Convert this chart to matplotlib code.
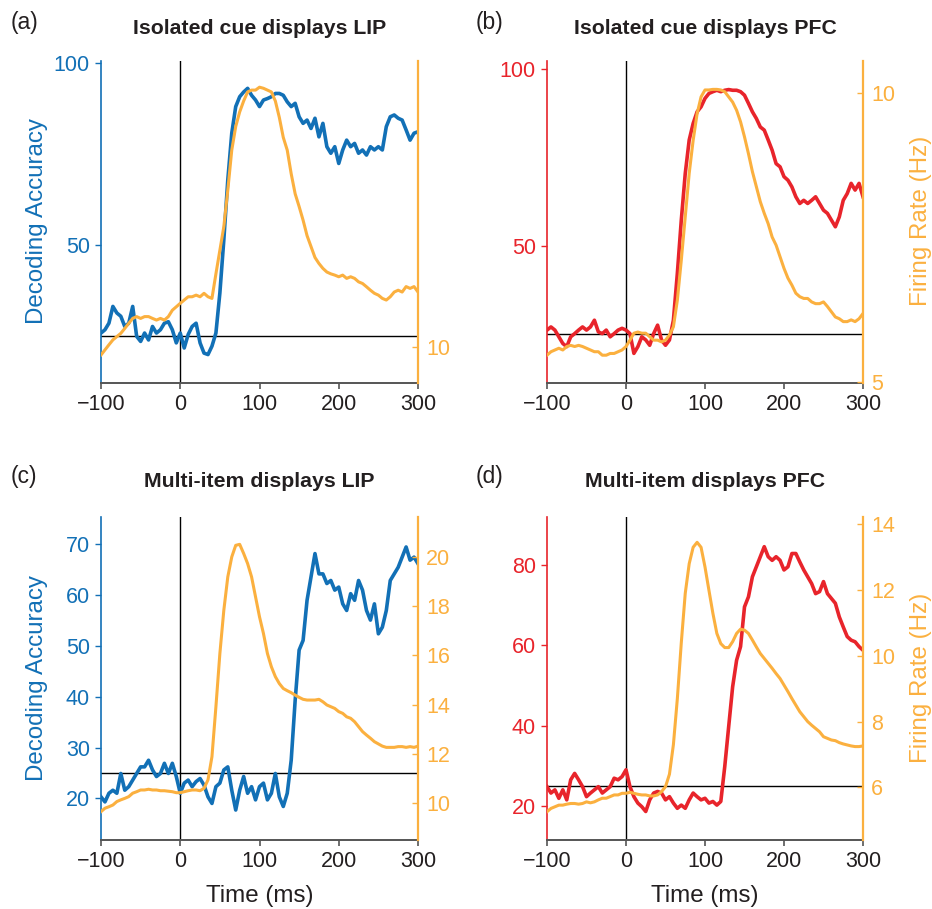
import numpy as np
import matplotlib.pyplot as plt

plt.rcParams['font.family'] = ['Liberation Sans', 'DejaVu Sans']

# time axis, 5 ms steps
time_ms = np.arange(-100, 301, 5)

# (a) isolated cue, LIP
dec_a = [25.9, 26.8, 28.6, 33.2, 31.4, 30.5, 27.7, 28.6, 33.2, 25.0, 23.6, 25.9, 24.0, 27.7, 25.9, 26.8, 28.6, 29.0, 26.8, 23.2, 25.9,
         21.8, 25.5, 27.7, 28.6, 23.2, 20.4, 20.0, 22.3, 25.9, 36.9, 51.5, 67.9, 80.7, 88.0, 90.7, 92.0, 93.0, 91.1, 89.8, 88.0,
         89.8, 90.2, 90.7, 91.6, 91.6, 91.1, 89.3, 88.0, 88.9, 85.2, 83.4, 84.3, 82.0, 84.8, 79.7, 83.4, 77.0, 75.2, 77.0, 72.4,
         76.1, 78.8, 77.0, 77.9, 75.2, 76.1, 74.7, 77.0, 76.1, 77.0, 76.1, 82.5, 85.2, 85.7, 84.8, 84.3, 81.6, 78.8, 80.7, 81.1]
fr_a = [9.54, 9.82, 10.10, 10.37, 10.55, 10.73, 11.00, 11.28, 11.55, 11.65, 11.55, 11.65, 11.65, 11.55, 11.46, 11.55, 11.46, 11.65, 12.00, 12.19, 12.38,
        12.56, 12.74, 12.74, 12.83, 12.74, 12.93, 12.74, 12.65, 14.00, 15.30, 16.60, 18.60, 20.80, 22.10, 22.90, 23.50, 24.00, 24.10, 24.10, 24.26,
        24.20, 24.10, 24.00, 23.50, 22.60, 21.50, 20.80, 19.50, 18.40, 17.70, 16.95, 16.10, 15.50, 14.90, 14.57, 14.30, 14.10, 14.00, 13.93, 13.84,
        13.93, 13.75, 13.84, 13.75, 13.56, 13.47, 13.29, 13.10, 12.93, 12.83, 12.65, 12.56, 12.74, 13.00, 13.10, 13.00, 13.30, 13.20, 13.30, 13.00]

# (b) isolated cue, PFC
dec_b = [26.1, 27.0, 26.1, 24.2, 22.3, 21.4, 24.2, 25.1, 26.1, 27.0, 26.1, 27.0, 28.9, 25.6, 25.1, 26.1, 24.2, 25.1, 26.1, 26.6, 26.1,
         25.1, 19.5, 21.4, 24.2, 23.3, 21.8, 25.1, 27.5, 23.3, 21.8, 23.3, 28.9, 42.2, 57.3, 70.5, 80.0, 84.7, 88.0, 89.4, 91.8,
         93.2, 93.7, 94.1, 93.7, 94.1, 94.3, 94.1, 94.1, 93.7, 92.7, 90.4, 88.0, 86.1, 83.7, 82.8, 80.0, 77.1, 73.3, 72.4, 69.6,
         68.6, 66.7, 63.9, 62.0, 62.9, 62.0, 62.9, 63.9, 62.0, 60.1, 59.2, 57.3, 55.4, 58.2, 62.9, 64.8, 67.7, 65.8, 67.7, 63.9]
fr_b = [5.47, 5.53, 5.56, 5.59, 5.56, 5.62, 5.64, 5.62, 5.64, 5.62, 5.59, 5.56, 5.53, 5.53, 5.47, 5.47, 5.50, 5.50, 5.53, 5.56, 5.62,
        5.73, 5.85, 5.87, 5.85, 5.85, 5.79, 5.73, 5.73, 5.70, 5.73, 5.82, 5.96, 6.42, 7.11, 7.86, 8.61, 9.18, 9.64, 9.93, 10.05,
        10.05, 10.06, 10.06, 10.05, 10.02, 9.93, 9.84, 9.70, 9.50, 9.24, 8.95, 8.64, 8.38, 8.12, 7.92, 7.74, 7.51, 7.37, 7.17, 6.97,
        6.80, 6.68, 6.54, 6.48, 6.45, 6.45, 6.39, 6.36, 6.36, 6.39, 6.31, 6.22, 6.13, 6.10, 6.05, 6.05, 6.08, 6.05, 6.10, 6.19]

# (c) multi-item, LIP
dec_c = [20.3, 19.3, 21.0, 21.6, 21.0, 24.9, 21.6, 22.3, 23.6, 24.9, 26.2, 26.2, 27.5, 25.6, 24.3, 24.9, 26.9, 24.9, 26.9, 24.3, 21.0,
         23.0, 23.6, 22.3, 23.3, 23.9, 22.6, 20.3, 19.0, 22.3, 23.0, 25.6, 26.2, 21.6, 17.7, 21.6, 24.3, 21.0, 22.3, 19.7, 22.3,
         23.0, 19.7, 21.0, 24.9, 20.3, 18.4, 21.0, 27.5, 39.3, 49.2, 51.1, 59.0, 63.6, 68.2, 64.2, 64.2, 62.3, 62.9, 61.0, 61.6,
         58.3, 57.0, 60.3, 59.0, 62.9, 61.0, 57.0, 55.1, 58.3, 52.4, 53.7, 57.0, 62.9, 64.2, 65.5, 67.5, 69.5, 66.9, 67.5, 66.2]
fr_c = [9.66, 9.80, 9.86, 9.93, 10.07, 10.14, 10.20, 10.27, 10.41, 10.47, 10.54, 10.54, 10.57, 10.54, 10.54, 10.51, 10.51, 10.49, 10.47, 10.43, 10.43,
        10.47, 10.51, 10.54, 10.54, 10.51, 10.61, 10.95, 11.89, 13.92, 16.08, 17.84, 19.19, 20.00, 20.47, 20.51, 20.14, 19.73, 19.19, 18.38, 17.57,
        16.89, 16.08, 15.54, 15.14, 14.86, 14.66, 14.57, 14.49, 14.39, 14.30, 14.22, 14.19, 14.19, 14.19, 14.22, 14.12, 13.99, 13.92, 13.85, 13.72,
        13.65, 13.51, 13.45, 13.31, 13.11, 12.91, 12.77, 12.64, 12.50, 12.41, 12.32, 12.27, 12.27, 12.27, 12.30, 12.30, 12.27, 12.30, 12.27, 12.32]

# (d) multi-item, PFC
dec_d = [24.8, 23.2, 24.0, 21.9, 24.0, 21.5, 26.5, 28.1, 26.5, 24.8, 22.3, 23.2, 24.0, 24.8, 23.2, 24.0, 24.8, 26.9, 26.5, 27.3, 29.0,
         24.8, 22.3, 20.7, 19.8, 18.6, 21.5, 23.2, 23.6, 23.2, 21.5, 22.3, 20.7, 19.4, 20.2, 19.4, 21.5, 23.2, 22.3, 21.5, 21.9,
         20.7, 21.1, 20.2, 21.1, 29.8, 39.8, 49.7, 56.3, 59.7, 69.6, 72.1, 77.1, 79.6, 82.1, 84.6, 82.1, 81.2, 82.1, 81.2, 78.8,
         79.6, 82.9, 82.9, 80.8, 78.8, 77.1, 75.4, 72.9, 73.4, 75.9, 72.9, 71.7, 70.5, 67.1, 64.6, 62.2, 61.3, 60.9, 59.7, 58.8]
fr_d = [5.26, 5.36, 5.41, 5.46, 5.46, 5.49, 5.51, 5.51, 5.49, 5.51, 5.56, 5.53, 5.56, 5.62, 5.67, 5.67, 5.72, 5.77, 5.77, 5.82, 5.82,
        5.85, 5.82, 5.79, 5.77, 5.77, 5.74, 5.74, 5.77, 5.87, 6.02, 6.40, 7.30, 8.70, 10.40, 11.90, 12.80, 13.30, 13.45, 13.30, 12.70,
        11.99, 11.29, 10.68, 10.37, 10.25, 10.25, 10.43, 10.68, 10.81, 10.78, 10.68, 10.48, 10.27, 10.07, 9.92, 9.77, 9.62, 9.46, 9.31, 9.11,
        8.91, 8.70, 8.50, 8.30, 8.15, 8.00, 7.89, 7.79, 7.69, 7.54, 7.49, 7.44, 7.42, 7.36, 7.32, 7.29, 7.26, 7.24, 7.24, 7.26]

blue = '#1270b6'
red = '#e8242b'
orange = '#fbb03f'
dark = '#231f20'

W, H = 932, 909
fig = plt.figure(figsize=(W / 100, H / 100), dpi=100)


def px(x, y):
    return x / W, 1 - y / H


def panel(left, top, right, bottom, dec, fr, color, ylim, yticks, rlim, rticks):
    ax = fig.add_axes([left / W, 1 - bottom / H, (right - left) / W, (bottom - top) / H])
    ax.axvline(0, color='k', lw=1)
    ax.axhline(25, color='k', lw=1)
    ax.plot(time_ms, dec, color=color, lw=2.6)
    ax.set_xlim(-100, 300)
    ax.set_ylim(*ylim)
    ax.set_xticks([-100, 0, 100, 200, 300])
    ax.set_yticks(yticks)
    for s in ['top', 'right']:
        ax.spines[s].set_visible(False)
    ax.spines['left'].set_color(color)
    ax.spines['left'].set_linewidth(1.2)
    ax.spines['bottom'].set_color('#555555')
    ax.spines['bottom'].set_linewidth(1.4)
    ax.tick_params(axis='x', colors='#555555', labelcolor=dark, length=4, width=1.2, labelsize=15.5, pad=4)
    ax.tick_params(axis='y', colors=color, length=4, width=1, labelsize=15.5, pad=4)

    ax2 = ax.twinx()
    ax2.plot(time_ms, fr, color=orange, lw=2.2)
    ax2.set_ylim(*rlim)
    ax2.set_yticks(rticks)
    for s in ['top', 'left', 'bottom']:
        ax2.spines[s].set_visible(False)
    ax2.spines['right'].set_color(orange)
    ax2.spines['right'].set_linewidth(1.6)
    ax2.tick_params(axis='y', colors=orange, direction='in', length=4, width=1, labelsize=15.5, pad=6)
    return ax, ax2


panel(101, 61, 418, 383, dec_a, fr_a, blue, (12.2, 100.5), [50, 100], (8, 25.7), [10])
panel(547, 61, 863, 383, dec_b, fr_b, red, (11.1, 102.4), [50, 100], (4.99, 10.55), [5, 10])
panel(101, 517, 418, 840, dec_c, fr_c, blue, (11.8, 75.4), [20, 30, 40, 50, 60, 70], (8.51, 21.62), [10, 12, 14, 16, 18, 20])
panel(547, 517, 863, 840, dec_d, fr_d, red, (11.5, 92.0), [20, 40, 60, 80], (4.4, 14.22), [6, 8, 10, 12, 14])

# panel letters and titles
for lab, x, y in [('(a)', 11, 22), ('(b)', 476, 22), ('(c)', 11, 477), ('(d)', 476, 477)]:
    fig.text(*px(x, y), lab, fontsize=16.5, color=dark, ha='left', va='center')
titles = ['Isolated cue displays LIP', 'Isolated cue displays PFC',
          'Multi-item displays LIP', 'Multi-item displays PFC']
for t, x, y in zip(titles, [259.5, 705, 259.5, 705], [34, 34, 487, 487]):
    fig.text(*px(x, y), t, fontsize=15.3, weight='bold', color=dark, ha='center', va='baseline')

# axis labels
for y in [221, 678]:
    fig.text(*px(37, y), 'Decoding Accuracy', fontsize=17.4, color=blue, rotation=90, ha='center', va='center')
    fig.text(*px(921, y), 'Firing Rate (Hz)', fontsize=17.4, color=orange, rotation=90, ha='center', va='center')
for x in [260, 705]:
    fig.text(*px(x, 896), 'Time (ms)', fontsize=17.4, color=dark, ha='center', va='center')

fig.savefig('out.png', dpi=100)
